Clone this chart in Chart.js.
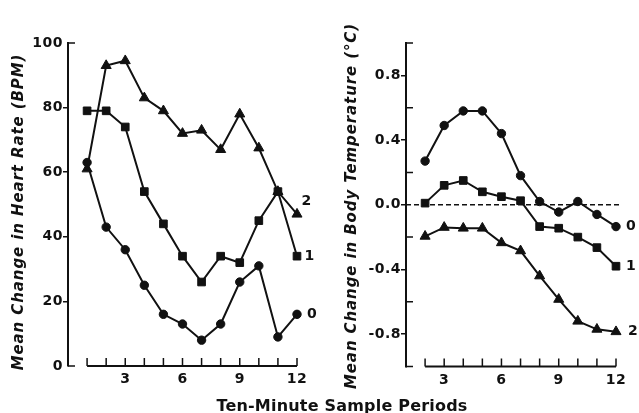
<!DOCTYPE html>
<html>
<head>
<meta charset="utf-8">
<script src="https://cdn.jsdelivr.net/npm/chart.js@4.4.0/dist/chart.umd.min.js"></script>
<style>
	html, body { margin: 0; padding: 0; background: #fff; }
	#wrap { position: relative; width: 639px; height: 413px; overflow: hidden; }
	canvas { position: absolute; top: 0; }
	#hr { left: 0; }
	#temp { left: 335px; }
	#xtitle {
		position: absolute; left: 142px; width: 400px; top: 398px;
		text-align: center; white-space: nowrap; color: #111;
		font: bold 16px "DejaVu Sans"; line-height: 16px; letter-spacing: 0.2px;
	}
</style>
</head>
<body>
<div id="wrap">
	<canvas id="hr" width="335" height="413"></canvas>
	<canvas id="temp" width="304" height="413"></canvas>
	<div id="xtitle">Ten-Minute Sample Periods</div>
</div>
<script>
// heart rate panel
const hrPeriods = [1, 2, 3, 4, 5, 6, 7, 8, 9, 10, 11, 12];
const hrGroup0 = [63, 43, 36, 25, 16, 13, 8, 13, 26, 31, 9, 16];
const hrGroup1 = [79, 79, 74, 54, 44, 34, 26, 34, 32, 45, 54, 34];
const hrGroup2 = [61, 93, 94.5, 83, 79, 72, 73, 67, 78, 67.5, 54, 47];
const hrXLabels = [3, 6, 9, 12];

// body temperature panel
const tempPeriods = [2, 3, 4, 5, 6, 7, 8, 9, 10, 11, 12];
const tempGroup0 = [0.27, 0.49, 0.58, 0.58, 0.44, 0.18, 0.02, -0.045, 0.02, -0.06, -0.135];
const tempGroup1 = [0.01, 0.12, 0.15, 0.08, 0.05, 0.025, -0.135, -0.145, -0.2, -0.265, -0.38];
const tempGroup2 = [-0.195, -0.14, -0.145, -0.145, -0.235, -0.285, -0.44, -0.585, -0.72, -0.77, -0.785];
const tempXLabels = [3, 6, 9, 12];
const tempYLabels = [-0.8, -0.4, 0, 0.4, 0.8];
const zeroLine = [1, 12.3];

const ink = '#111';
const tickFont = { family: 'DejaVu Sans', size: 14, weight: 'bold' };

function series(xs, ys, shape, radius, name) {
	return {
		label: name,
		endLabel: name,
		data: xs.map(function (x, i) { return { x: x, y: ys[i] }; }),
		borderColor: ink,
		backgroundColor: ink,
		borderWidth: 2,
		pointStyle: shape,
		pointRadius: radius,
		pointBackgroundColor: ink,
		pointBorderColor: ink,
		pointBorderWidth: 1,
		tension: 0,
		clip: false
	};
}

const spacing = {
	id: 'spacing',
	beforeDraw(chart) {
		chart.ctx.letterSpacing = '0.5px';
	}
};

function sideTitle(text, x, y) {
	return {
		id: 'sideTitle',
		afterDraw(chart) {
			const ctx = chart.ctx;
			ctx.save();
			ctx.translate(x, y);
			ctx.rotate(-Math.PI / 2);
			ctx.font = 'italic bold 15px "DejaVu Sans"';
			ctx.letterSpacing = '0.9px';
			ctx.fillStyle = ink;
			ctx.textAlign = 'center';
			ctx.textBaseline = 'middle';
			ctx.fillText(text, 0, 0);
			ctx.restore();
		}
	};
}

// x baseline with inner ticks, plus inner ticks on the y axis
function axisMarks(xFrom, xTo, inward) {
	return {
		id: 'axisMarks',
		beforeDatasetsDraw(chart) {
			const ctx = chart.ctx;
			const x = chart.scales.x;
			const y = chart.scales.y;
			const base = y.bottom;
			ctx.save();
			ctx.strokeStyle = ink;
			ctx.lineWidth = 2;
			ctx.beginPath();
			ctx.moveTo(x.getPixelForValue(xFrom), base);
			ctx.lineTo(x.getPixelForValue(xTo), base);
			ctx.stroke();
			ctx.lineWidth = 1.5;
			ctx.beginPath();
			for (let v = xFrom; v <= xTo; v++) {
				const px = x.getPixelForValue(v);
				ctx.moveTo(px, base);
				ctx.lineTo(px, base - 8);
			}
			y.ticks.forEach(function (t) {
				if (!inward(t.value)) {
					return;
				}
				const py = y.getPixelForValue(t.value);
				ctx.moveTo(y.right, py);
				ctx.lineTo(y.right + 7, py);
			});
			ctx.stroke();
			ctx.restore();
		}
	};
}

function endLabels(offsets) {
	return {
		id: 'endLabels',
		afterDatasetsDraw(chart) {
			const ctx = chart.ctx;
			ctx.save();
			ctx.font = 'bold 14px "DejaVu Sans"';
			ctx.fillStyle = ink;
			ctx.textAlign = 'left';
			ctx.textBaseline = 'middle';
			chart.data.datasets.forEach(function (ds, i) {
				if (!ds.endLabel) {
					return;
				}
				const pts = chart.getDatasetMeta(i).data;
				const pt = pts[pts.length - 1];
				const off = offsets[ds.endLabel];
				ctx.fillText(ds.endLabel, pt.x + off[0], pt.y + off[1]);
			});
			ctx.restore();
		}
	};
}

function isLabelled(list, v) {
	return list.some(function (t) { return Math.abs(t - v) < 1e-6; });
}

new Chart(document.getElementById('hr'), {
	type: 'line',
	data: {
		datasets: [
			series(hrPeriods, hrGroup0, 'circle', 4.2, '0'),
			series(hrPeriods, hrGroup1, 'rect', 5.4, '1'),
			series(hrPeriods, hrGroup2, 'triangle', 5.8, '2')
		]
	},
	options: {
		responsive: false,
		animation: false,
		layout: { padding: { top: 43, right: 38, left: 0, bottom: 0 } },
		plugins: { legend: { display: false }, tooltip: { enabled: false } },
		scales: {
			x: {
				type: 'linear', min: 0, max: 12,
				grid: { display: false, drawTicks: false },
				border: { display: false },
				ticks: {
					stepSize: 1, autoSkip: false, maxRotation: 0, minRotation: 0,
					padding: 5, color: ink, font: tickFont,
					callback: function (v) { return hrXLabels.includes(v) ? String(v) : ''; }
				},
				afterFit: function (s) { s.height = 47; s.paddingLeft = 0; s.paddingRight = 0; }
			},
			y: {
				type: 'linear', min: 0, max: 100,
				grid: {
					drawOnChartArea: false, tickLength: 5, lineWidth: 1.5,
					tickColor: function (c) { return (c.tick.value === 0 || c.tick.value === 100) ? 'rgba(0,0,0,0)' : ink; }
				},
				border: { display: true, color: ink, width: 2 },
				ticks: { stepSize: 20, padding: 0, color: ink, font: tickFont },
				afterFit: function (s) { s.width = 68; s.paddingTop = 0; s.paddingBottom = 0; }
			}
		}
	},
	plugins: [
		spacing,
		sideTitle('Mean Change in Heart Rate (BPM)', 19, 212),
		axisMarks(1, 12, function (v) { return v === 0 || v === 100; }),
		endLabels({ '0': [10, 0], '1': [7.5, 0], '2': [4.5, -13] })
	]
});

new Chart(document.getElementById('temp'), {
	type: 'line',
	data: {
		datasets: [
			{
				data: zeroLine.map(function (x) { return { x: x, y: 0 }; }),
				borderColor: ink, borderWidth: 1.6, borderDash: [5, 3],
				pointRadius: 0, clip: false
			},
			series(tempPeriods, tempGroup0, 'circle', 4.2, '0'),
			series(tempPeriods, tempGroup1, 'rect', 5.4, '1'),
			series(tempPeriods, tempGroup2, 'triangle', 5.8, '2')
		]
	},
	options: {
		responsive: false,
		animation: false,
		layout: { padding: { top: 43, right: 23, left: 0, bottom: 0 } },
		plugins: { legend: { display: false }, tooltip: { enabled: false } },
		scales: {
			x: {
				type: 'linear', min: 1, max: 12,
				grid: { display: false, drawTicks: false },
				border: { display: false },
				ticks: {
					stepSize: 1, autoSkip: false, maxRotation: 0, minRotation: 0,
					padding: 5, color: ink, font: tickFont,
					callback: function (v) { return tempXLabels.includes(v) ? String(v) : ''; }
				},
				afterFit: function (s) { s.height = 46.5; s.paddingLeft = 0; s.paddingRight = 0; }
			},
			y: {
				type: 'linear', min: -1, max: 1,
				grid: {
					drawOnChartArea: false, tickLength: 5, lineWidth: 1.5,
					tickColor: function (c) { return isLabelled(tempYLabels, c.tick.value) ? ink : 'rgba(0,0,0,0)'; }
				},
				border: { display: true, color: ink, width: 2 },
				ticks: {
					stepSize: 0.2, autoSkip: false, padding: 0, color: ink, font: tickFont,
					callback: function (v) { return isLabelled(tempYLabels, v) ? v.toFixed(1) : ''; }
				},
				afterFit: function (s) { s.width = 71; s.paddingTop = 0; s.paddingBottom = 0; }
			}
		}
	},
	plugins: [
		spacing,
		sideTitle('Mean Change in Body Temperature (°C)', 17, 206),
		axisMarks(2, 12, function (v) { return !isLabelled(tempYLabels, v); }),
		endLabels({ '0': [10, 0], '1': [10, 0], '2': [12, 0] })
	]
});
</script>
</body>
</html>
